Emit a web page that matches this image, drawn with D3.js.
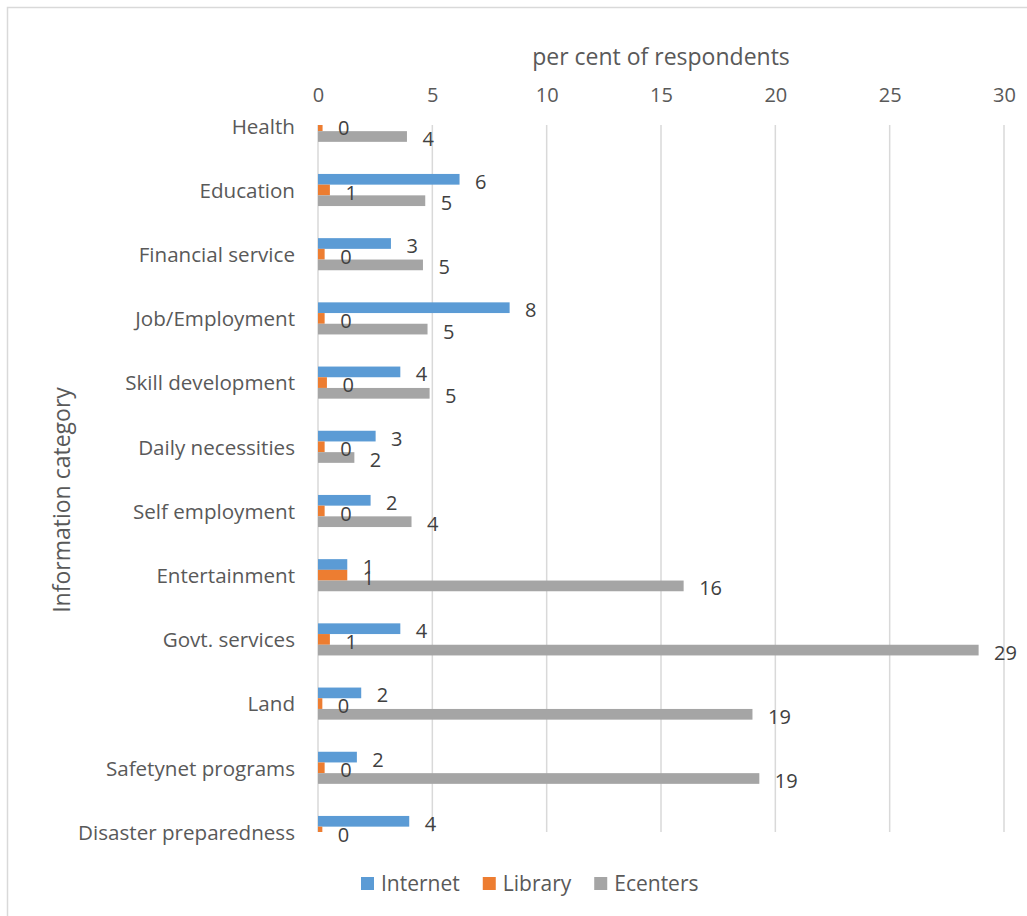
<!DOCTYPE html>
<html>
<head>
<meta charset="utf-8">
<script src="https://cdn.jsdelivr.net/npm/d3@7"></script>
<style>
	body { margin: 0; background: #fff; }
	svg { display: block; font-family: "Open Sans", sans-serif; }
</style>
</head>
<body>
<svg id="chart"></svg>
<script>
// Categories top to bottom
const categories = [
	"Health", "Education", "Financial service", "Job/Employment", "Skill development",
	"Daily necessities", "Self employment", "Entertainment", "Govt. services", "Land",
	"Safetynet programs", "Disaster preparedness"
];
// per cent of respondents (null = not shown)
const internet = [null, 6.19, 3.19, 8.38, 3.6, 2.52, 2.3, 1.28, 3.6, 1.89, 1.7, 3.99];
const library = [0.2, 0.52, 0.29, 0.29, 0.39, 0.29, 0.29, 1.28, 0.52, 0.19, 0.29, 0.19];
const ecenters = [3.89, 4.69, 4.59, 4.79, 4.88, 1.59, 4.09, 15.99, 28.89, 19.0, 19.3, null];
const seriesNames = ["Internet", "Library", "Ecenters"];
const xTicks = [0, 5, 10, 15, 20, 25, 30];

const colors = ["#5B9BD5", "#ED7D31", "#A5A5A5"];
const width = 1027;
const height = 916;
const margin = { top: 125, right: 23, bottom: 84, left: 318 };

const svg = d3.select("#chart").attr("width", width).attr("height", height);

// Chart border (runs off the right and bottom edges)
svg.append("rect")
	.attr("x", 7.5).attr("y", 7.5)
	.attr("width", width + 20).attr("height", height + 20)
	.attr("fill", "none").attr("stroke", "#d9d9d9").attr("stroke-width", 1.5);

const x = d3.scaleLinear().domain([0, 30]).range([margin.left, 1004]);
// Axis "on tick marks": first and last category sit on the plot edges
const y = d3.scalePoint().domain(categories).range([125.8, 832]);
const barH = y.step() / 6;
const offsets = [-1.5 * barH, -0.5 * barH, 0.5 * barH];

// Gridlines
svg.append("g")
	.selectAll("line")
	.data(xTicks)
	.join("line")
	.attr("x1", (d) => x(d)).attr("x2", (d) => x(d))
	.attr("y1", 125).attr("y2", 832)
	.attr("stroke", "#d9d9d9").attr("stroke-width", 1.5);

// Top axis tick labels
const xAxis = svg.append("g")
	.attr("transform", "translate(0, 102)")
	.call(d3.axisTop(x).tickValues(xTicks).tickSize(0).tickPadding(0));
xAxis.select(".domain").remove();
xAxis.selectAll("text")
	.attr("font-size", 20).attr("fill", "#595959")
	.attr("font-family", "Open Sans, sans-serif").attr("dy", 0);

svg.append("text")
	.attr("x", 661).attr("y", 65)
	.attr("text-anchor", "middle").attr("font-size", 23).attr("fill", "#595959")
	.text("per cent of respondents");

// Category labels
const yAxis = svg.append("g")
	.attr("transform", "translate(295, 0)")
	.call(d3.axisLeft(y).tickSize(0).tickPadding(0));
yAxis.select(".domain").remove();
yAxis.selectAll("text")
	.attr("font-size", 20.6).attr("fill", "#595959")
	.attr("font-family", "Open Sans, sans-serif").attr("dy", "0.35em");

svg.append("text")
	.attr("transform", "translate(70, 500) rotate(-90)")
	.attr("text-anchor", "middle").attr("font-size", 23).attr("fill", "#595959")
	.text("Information category");

// Clip bars to the plot area
svg.append("clipPath").attr("id", "plot")
	.append("rect")
	.attr("x", margin.left).attr("y", 125)
	.attr("width", 1004 - margin.left).attr("height", 832 - 125);

const series = [internet, library, ecenters].map((vals, s) =>
	vals.map((v, i) => ({ cat: categories[i], value: v, s }))
		.filter((d) => d.value !== null)
);

const bars = svg.append("g").attr("clip-path", "url(#plot)");
series.forEach((rows) => {
	bars.append("g")
		.selectAll("rect")
		.data(rows)
		.join("rect")
		.attr("x", x(0))
		.attr("y", (d) => y(d.cat) + offsets[d.s])
		.attr("width", (d) => x(d.value) - x(0))
		.attr("height", barH)
		.attr("fill", (d) => colors[d.s]);
});

// Data labels, rounded
const fmt = d3.format(".0f");
series.forEach((rows) => {
	svg.append("g")
		.selectAll("text")
		.data(rows)
		.join("text")
		.attr("x", (d) => x(d.value) + 15.5)
		.attr("y", (d) => y(d.cat) + offsets[d.s] + barH / 2 + 9.5)
		.attr("font-size", 20)
		.attr("fill", "#404040")
		.text((d) => fmt(d.value));
});

// Legend
const legend = svg.append("g").attr("transform", "translate(361, 877)");
let lx = 0;
seriesNames.forEach((name, i) => {
	const item = legend.append("g").attr("transform", `translate(${lx}, 0)`);
	item.append("rect").attr("width", 13).attr("height", 13).attr("fill", colors[i]);
	const t = item.append("text")
		.attr("x", 20).attr("y", 13.5)
		.attr("font-size", 21).attr("fill", "#595959")
		.text(name);
	lx += 20 + t.node().getComputedTextLength() + 23;
});
</script>
</body>
</html>
